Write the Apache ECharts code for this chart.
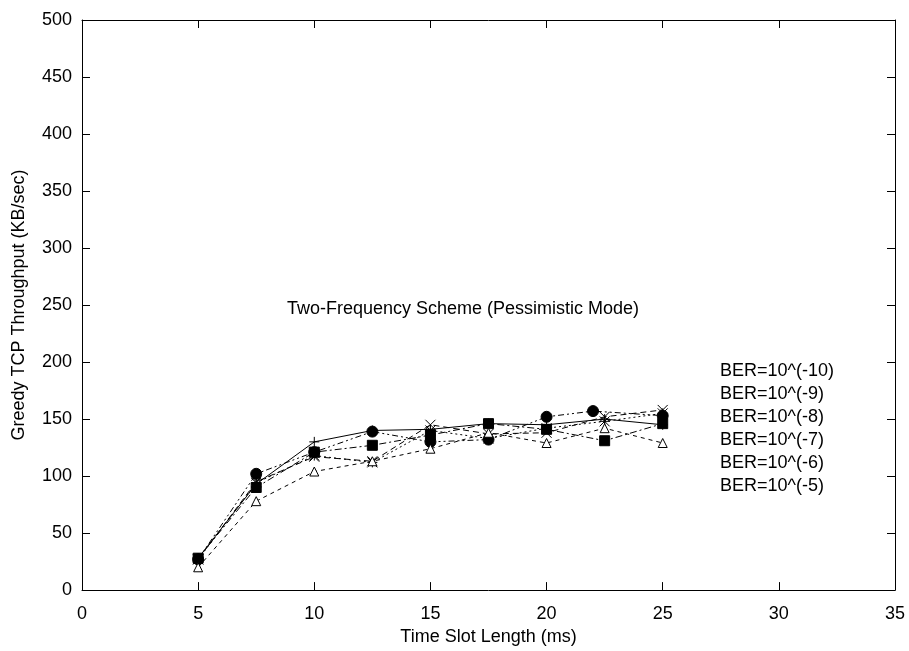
<!DOCTYPE html>
<html>
<head>
<meta charset="utf-8">
<script src="https://cdn.jsdelivr.net/npm/echarts@6/dist/echarts.min.js"></script>
<style>
  html, body { margin: 0; padding: 0; background: #fff; overflow: hidden; }
  #chart { width: 909px; height: 651px; }
</style>
</head>
<body>
<div id="chart"></div>
<script>
// Time slot lengths (ms) at which throughput was measured
const slots = [5, 7.5, 10, 12.5, 15, 17.5, 20, 22.5, 25];
const slotsCircle = [5, 7.5, 10, 12.5, 15, 17.5, 20, 22, 25];

// Greedy TCP throughput (KB/sec) per bit error rate
const ber10 = [28, 93, 130, 140, 141, 146, 145, 150, 145];
const ber9  = [27, 95, 117, 113, 145, 137, 138, 152, 158];
const ber8  = [27, 94, 118, 112, 140, 133, 142, 148, 155];
const ber7  = [28, 90, 121, 127, 136, 146, 141, 131, 146];
const ber6  = [27, 102, 121, 139, 130, 132, 152, 157, 153];
const ber5  = [20, 78, 104, 113, 124, 138, 129, 142, 129];

const names = ['BER=10^(-10)', 'BER=10^(-9)', 'BER=10^(-8)', 'BER=10^(-7)', 'BER=10^(-6)', 'BER=10^(-5)'];
const yTicks = [0, 50, 100, 150, 200, 250, 300, 350, 400, 450, 500];
const xTicks = [0, 5, 10, 15, 20, 25, 30, 35];

const FONT = '"Liberation Sans", Arial, Helvetica, sans-serif';
const FS = 18;

const zip = (xs, ys) => xs.map((x, i) => [x, ys[i]]);

const plusPath = 'path://M5,0L5,10M0,5L10,5';
const crossPath = 'path://M0,0L10,10M10,0L0,10';
const starPath = 'path://M5,0L5,10M0,5L10,5M0,0L10,10M10,0L0,10';

function lineSeries(name, data, dash, symbol, size, filled) {
  return {
    name: name,
    type: 'line',
    xAxisIndex: 0,
    yAxisIndex: 0,
    data: data,
    symbol: symbol,
    symbolSize: size,
    showSymbol: true,
    animation: false,
    lineStyle: { color: '#000', width: 1, type: dash },
    itemStyle: filled
      ? { color: '#000', borderColor: '#000', borderWidth: 1 }
      : { color: symbol.startsWith('path') ? 'rgba(0,0,0,0)' : '#fff', borderColor: '#000', borderWidth: 1 },
    emphasis: { disabled: true }
  };
}

const chart = echarts.init(document.getElementById('chart'), null, { renderer: 'canvas' });

const axisCommon = {
  type: 'value',
  axisLine: { show: true, onZero: false, lineStyle: { color: '#000', width: 1 } },
  axisTick: { show: true, inside: true, length: 8, lineStyle: { color: '#000' } },
  splitLine: { show: false }
};

chart.setOption({
  backgroundColor: '#fff',
  animation: false,
  grid: { left: 82, right: 14, top: 20, bottom: 45, containLabel: false },
  title: {
    text: 'Two-Frequency Scheme (Pessimistic Mode)',
    left: 282,
    top: 295,
    textStyle: { fontFamily: FONT, fontSize: FS, fontWeight: 'normal', color: '#000' }
  },
  legend: {
    data: names,
    orient: 'vertical',
    left: 709,
    top: 357,
    itemWidth: 0,
    itemHeight: 0,
    itemGap: 5,
    icon: 'rect',
    selectedMode: false,
    textStyle: { fontFamily: FONT, fontSize: FS, color: '#000' }
  },
  xAxis: [
    Object.assign({}, axisCommon, {
      position: 'bottom', min: 0, max: 35, interval: 5,
      name: 'Time Slot Length (ms)',
      nameLocation: 'middle',
      nameGap: 30,
      nameTextStyle: { fontFamily: FONT, fontSize: FS, color: '#000' },
      axisLabel: { fontFamily: FONT, fontSize: FS, color: '#000', margin: 15,
        formatter: v => xTicks.includes(v) ? String(v) : '' }
    }),
    Object.assign({}, axisCommon, {
      position: 'top', min: 0, max: 35, interval: 5,
      axisLabel: { show: false }
    })
  ],
  yAxis: [
    Object.assign({}, axisCommon, {
      position: 'left', min: 0, max: 500, interval: 50,
      name: 'Greedy TCP Throughput (KB/sec)',
      nameLocation: 'middle',
      nameGap: 54,
      nameTextStyle: { fontFamily: FONT, fontSize: FS, color: '#000' },
      axisLabel: { fontFamily: FONT, fontSize: FS, color: '#000', margin: 10,
        formatter: v => yTicks.includes(v) ? String(v) : '' }
    }),
    Object.assign({}, axisCommon, {
      position: 'right', min: 0, max: 500, interval: 50,
      axisLabel: { show: false }
    })
  ],
  series: [
    lineSeries(names[0], zip(slots, ber10), 'solid', plusPath, 10, false),
    lineSeries(names[1], zip(slots, ber9), [6, 4], crossPath, 10, false),
    lineSeries(names[2], zip(slots, ber8), [2, 3], starPath, 10, false),
    lineSeries(names[3], zip(slots, ber7), [7, 3, 2, 3], 'rect', 10, true),
    lineSeries(names[4], zip(slotsCircle, ber6), [6, 3, 2, 3, 2, 3], 'circle', 11, true),
    lineSeries(names[5], zip(slots, ber5), [4, 4], 'triangle', 9, false)
  ]
});
</script>
</body>
</html>
